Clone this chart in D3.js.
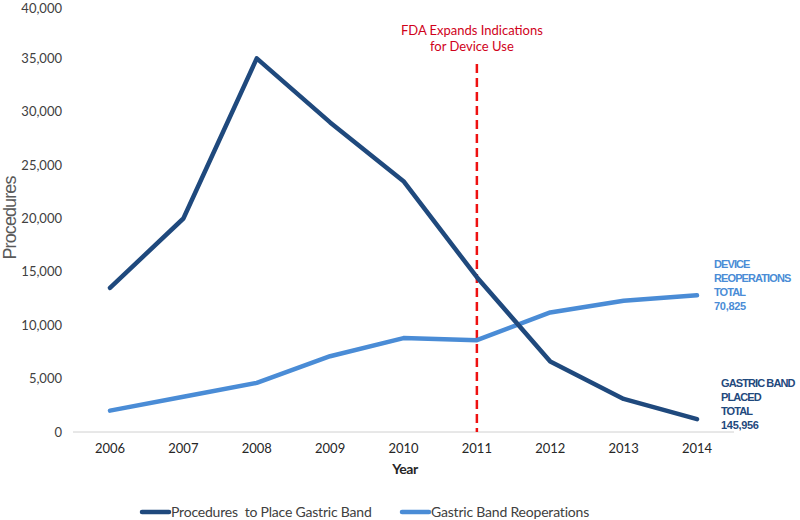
<!DOCTYPE html>
<html><head><meta charset="utf-8">
<script src="https://cdn.jsdelivr.net/npm/d3@7"></script>
<style>body{margin:0;background:#fff}svg{display:block}</style>
</head><body><div id="c"></div>
<script>
const years = ["2006","2007","2008","2009","2010","2011","2012","2013","2014"];
const placed = [13500, 20000, 35000, 29000, 23500, 14500, 6600, 3100, 1200];
const reops = [2000, 3300, 4600, 7100, 8800, 8600, 11200, 12300, 12800];
const yTicks = [0, 5000, 10000, 15000, 20000, 25000, 30000, 35000, 40000];
const seriesNames = ["Procedures  to Place Gastric Band", "Gastric Band Reoperations"];
const eventYear = "2011";
const eventLabel = ["FDA Expands Indications", "for Device Use"];
const reopLabel = ["DEVICE", "REOPERATIONS", "TOTAL", "70,825"];
const placedLabel = ["GASTRIC BAND", "PLACED", "TOTAL", "145,956"];

const W = 800, H = 520;
const dark = "#1F497D", light = "#4A8CD6";
const svg = d3.select("#c").append("svg").attr("width", W).attr("height", H);
const font = "Lato, 'Open Sans', sans-serif";

const x = d3.scalePoint().domain(years).range([110, 697]);
const y = d3.scaleLinear().domain([0, 40000]).range([432, 5]);

svg.append("line").attr("x1", 73).attr("x2", 734).attr("y1", y(0)).attr("y2", y(0))
  .attr("stroke", "#d0d0d0").attr("stroke-width", 1);

svg.selectAll(".yt").data(yTicks).enter().append("text")
  .attr("x", 62).attr("y", d => Math.max(y(d), 8)).attr("dy", "0.35em").attr("text-anchor", "end")
  .attr("font-family", font).attr("font-size", 13).attr("fill", "#404040")
  .text(d => d3.format(",")(d));

svg.selectAll(".xt").data(years).enter().append("text")
  .attr("x", d => x(d)).attr("y", 453).attr("text-anchor", "middle")
  .attr("font-family", font).attr("font-size", 13).attr("fill", "#262626")
  .text(d => d);

svg.append("text").attr("transform", "translate(16,218) rotate(-90)").attr("text-anchor", "middle")
  .attr("font-family", "'Liberation Sans', Arial, sans-serif").attr("font-size", 18).attr("letter-spacing", -0.9)
  .attr("fill", "#595959").text("Procedures");
svg.append("text").attr("x", 405).attr("y", 474).attr("text-anchor", "middle")
  .attr("font-family", font).attr("font-weight", "bold").attr("font-size", 14).attr("letter-spacing", -0.5)
  .attr("fill", "#262626").text("Year");

svg.append("line").attr("x1", x(eventYear)).attr("x2", x(eventYear)).attr("y1", 64).attr("y2", y(0))
  .attr("stroke", "#EE1111").attr("stroke-width", 2.5).attr("stroke-dasharray", "9,5");
svg.selectAll(".ev").data(eventLabel).enter().append("text")
  .attr("x", x(eventYear) - 5).attr("y", (d, i) => 35 + i * 16).attr("text-anchor", "middle")
  .attr("font-family", font).attr("font-size", 13).attr("fill", "#D0021B").text(d => d);

const line = d3.line().x((d, i) => x(years[i])).y(d => y(d));
svg.append("path").datum(reops).attr("d", line).attr("fill", "none")
  .attr("stroke", light).attr("stroke-width", 4.5).attr("stroke-linecap", "round").attr("stroke-linejoin", "round");
svg.append("path").datum(placed).attr("d", line).attr("fill", "none")
  .attr("stroke", dark).attr("stroke-width", 4.5).attr("stroke-linecap", "round").attr("stroke-linejoin", "round");

const lblFont = "'Liberation Sans', Arial, sans-serif";
svg.selectAll(".rl").data(reopLabel).enter().append("text")
  .attr("x", 714).attr("y", (d, i) => 268 + i * 14)
  .attr("font-family", lblFont).attr("font-weight", "bold").attr("font-size", 11).attr("letter-spacing", d => /\d/.test(d) ? -0.3 : -0.9)
  .attr("fill", light).text(d => d);
svg.selectAll(".pl").data(placedLabel).enter().append("text")
  .attr("x", 721).attr("y", (d, i) => 387 + i * 14)
  .attr("font-family", lblFont).attr("font-weight", "bold").attr("font-size", 11).attr("letter-spacing", d => /\d/.test(d) ? -0.3 : -0.9)
  .attr("fill", dark).text(d => d);

const leg = [{name: seriesNames[0], c: dark, x: 142}, {name: seriesNames[1], c: light, x: 402}];
leg.forEach(l => {
  svg.append("line").attr("x1", l.x).attr("x2", l.x + 27).attr("y1", 512).attr("y2", 512)
    .attr("stroke", l.c).attr("stroke-width", 4.5).attr("stroke-linecap", "round");
  svg.append("text").attr("x", l.x + 29).attr("y", 517).attr("font-family", font).attr("font-size", 14)
    .attr("fill", "#404040").attr("letter-spacing", -0.2).attr("xml:space", "preserve").style("white-space", "pre").text(l.name);
});
</script></body></html>
